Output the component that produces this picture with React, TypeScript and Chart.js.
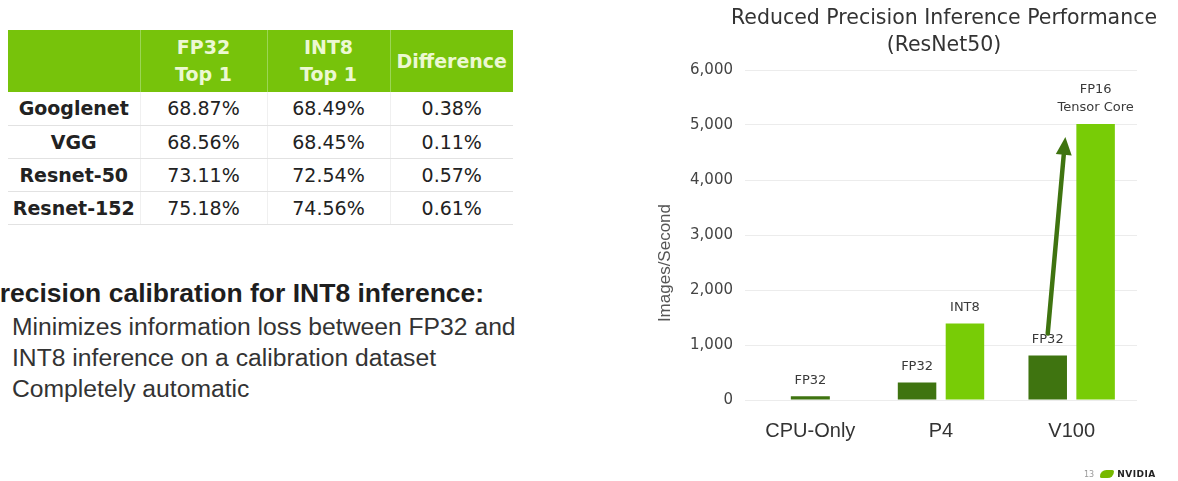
import React, { useEffect, useRef } from 'react';
import { Chart, registerables } from 'chart.js';

Chart.register(...registerables);

// ---- Chart data ----
const categories = ['CPU-Only', 'P4', 'V100'];
const fp32Values: (number | null)[] = [70, 320, 810];
const reducedValues: (number | null)[] = [null, 1390, 5020];
const fp32BarLabels: string[][] = [['FP32'], ['FP32'], ['FP32']];
const reducedBarLabels: string[][] = [[], ['INT8'], ['FP16', 'Tensor Core']];
const chartTitle = ['Reduced Precision Inference Performance', '(ResNet50)'];
const yAxisTitle = 'Images/Second';
const yMax = 6000;
const yStep = 1000;

// ---- Table data ----
const tableHeaders: string[][] = [[], ['FP32', 'Top 1'], ['INT8', 'Top 1'], ['Difference']];
const models = ['Googlenet', 'VGG', 'Resnet-50', 'Resnet-152'];
const fp32Top1 = ['68.87%', '68.56%', '73.11%', '75.18%'];
const int8Top1 = ['68.49%', '68.45%', '72.54%', '74.56%'];
const differences = ['0.38%', '0.11%', '0.57%', '0.61%'];

// ---- Text block ----
const heading = 'Precision calibration for INT8 inference:';
const bulletLines = [
  'Minimizes information loss between FP32 and',
  'INT8 inference on a calibration dataset',
  'Completely automatic',
];

const DARK_GREEN = '#3f7410';
const LIGHT_GREEN = '#78cc06';

const annotatePlugin = {
  id: 'annotateBars',
  afterDraw(chart: any) {
    const ctx = chart.ctx as CanvasRenderingContext2D;
    const area = chart.chartArea;
    ctx.save();
    // chart title (centered over the plot area)
    ctx.font = '20.5px "DejaVu Sans"';
    ctx.fillStyle = '#333';
    ctx.textAlign = 'center';
    ctx.textBaseline = 'middle';
    const cx = (area.left + area.right) / 2 + 3;
    chartTitle.forEach((t, k) => ctx.fillText(t, cx, area.top - 51 + k * 27));
    // y-axis title
    ctx.save();
    ctx.font = '17px "Liberation Sans"';
    ctx.fillStyle = '#555';
    ctx.translate(area.left - 80, area.top + (area.bottom - area.top) * 0.585);
    ctx.rotate(-Math.PI / 2);
    ctx.fillText(yAxisTitle, 0, 0);
    ctx.restore();
    ctx.restore();
  },
  afterDatasetsDraw(chart: any) {
    const ctx = chart.ctx as CanvasRenderingContext2D;
    const m0 = chart.getDatasetMeta(0);
    const m1 = chart.getDatasetMeta(1);
    ctx.save();
    ctx.font = '13px "DejaVu Sans"';
    ctx.fillStyle = '#3a3a3a';
    ctx.textAlign = 'center';
    ctx.textBaseline = 'middle';
    m0.data.forEach((bar: any, i: number) => {
      if (fp32Values[i] == null) return;
      const lines = fp32BarLabels[i];
      lines.forEach((t, k) => ctx.fillText(t, bar.x, bar.y - 16 - (lines.length - 1 - k) * 18));
    });
    m1.data.forEach((bar: any, i: number) => {
      if (reducedValues[i] == null) return;
      const lines = reducedBarLabels[i];
      lines.forEach((t, k) => ctx.fillText(t, bar.x, bar.y - 16 - (lines.length - 1 - k) * 18));
    });
    // arrow from V100 FP32 to V100 FP16
    const from = m0.data[2];
    const to = m1.data[2];
    const x1 = from.x;
    const y1 = from.y - 22;
    const x2 = to.x - to.width / 2 - 11;
    const y2 = to.y + 13;
    const ang = Math.atan2(y2 - y1, x2 - x1);
    const headLen = 18;
    const headHalf = 8;
    const bx = x2 - headLen * Math.cos(ang);
    const by = y2 - headLen * Math.sin(ang);
    ctx.strokeStyle = DARK_GREEN;
    ctx.fillStyle = DARK_GREEN;
    ctx.lineWidth = 4.5;
    ctx.lineCap = 'round';
    ctx.beginPath();
    ctx.moveTo(x1, y1);
    ctx.lineTo(bx, by);
    ctx.stroke();
    ctx.beginPath();
    ctx.moveTo(x2, y2);
    ctx.lineTo(bx + headHalf * Math.sin(ang), by - headHalf * Math.cos(ang));
    ctx.lineTo(bx - headHalf * Math.sin(ang), by + headHalf * Math.cos(ang));
    ctx.closePath();
    ctx.fill();
    ctx.restore();
  },
};

function BarChart() {
  const ref = useRef<HTMLCanvasElement | null>(null);
  useEffect(() => {
    if (!ref.current) return;
    const chart = new Chart(ref.current, {
      type: 'bar',
      data: {
        labels: categories,
        datasets: [
          {
            label: 'FP32',
            data: fp32Values as any,
            backgroundColor: DARK_GREEN,
            skipNull: true,
            categoryPercentage: 0.733,
            barPercentage: 0.804,
            maxBarThickness: 39,
          } as any,
          {
            label: 'Reduced precision',
            data: reducedValues as any,
            backgroundColor: LIGHT_GREEN,
            skipNull: true,
            categoryPercentage: 0.733,
            barPercentage: 0.804,
            maxBarThickness: 39,
          } as any,
        ],
      },
      options: {
        animation: false,
        responsive: true,
        maintainAspectRatio: false,
        layout: { padding: { left: 16, right: 41, top: 70, bottom: 27 } },
        plugins: {
          legend: { display: false },
          tooltip: { enabled: false },
          title: { display: false },
        },
        scales: {
          x: {
            grid: { display: false },
            border: { display: false },
            ticks: {
              color: '#333',
              font: { family: '"Liberation Sans"', size: 20 },
              padding: 11,
            },
          },
          y: {
            min: 0,
            max: yMax,
            border: { display: false },
            grid: { color: '#ececec', drawTicks: false, lineWidth: 1 },
            afterFit: (scale: any) => {
              scale.width = 89;
            },
            ticks: {
              stepSize: yStep,
              color: '#444',
              font: { family: '"DejaVu Sans"', size: 15 },
              padding: 12,
              callback: (v: any) => Number(v).toLocaleString('en-US'),
            },
          },
        },
      },
      plugins: [annotatePlugin],
    });
    return () => chart.destroy();
  }, []);
  return <canvas ref={ref} />;
}

const cellFont = '"DejaVu Sans", sans-serif';
const colWidths = [132, 127, 123, 123];

export default function App() {
  return (
    <div
      style={{
        position: 'fixed',
        left: 0,
        top: 0,
        width: 1178,
        height: 481,
        overflow: 'hidden',
        background: '#fff',
      }}
    >
      <table
        style={{
          position: 'absolute',
          left: 8,
          top: 30,
          borderCollapse: 'collapse',
          tableLayout: 'fixed',
          width: 505,
          fontFamily: cellFont,
        }}
      >
        <colgroup>
          {colWidths.map((w, i) => (
            <col key={i} style={{ width: w }} />
          ))}
        </colgroup>
        <thead>
          <tr style={{ height: 62, background: '#77c30b' }}>
            {tableHeaders.map((h, i) => (
              <th
                key={i}
                style={{
                  color: '#ecf8d2',
                  fontSize: 19,
                  fontWeight: 'bold',
                  lineHeight: '27px',
                  padding: 0,
                  textAlign: 'center',
                  borderLeft: i > 0 ? '1px solid #9bd655' : 'none',
                }}
              >
                {h.map((line, k) => (
                  <div key={k}>{line}</div>
                ))}
              </th>
            ))}
          </tr>
        </thead>
        <tbody>
          {models.map((m, r) => (
            <tr key={m} style={{ height: 33 }}>
              {[m, fp32Top1[r], int8Top1[r], differences[r]].map((v, c) => (
                <td
                  key={c}
                  style={{
                    padding: 0,
                    textAlign: 'center',
                    fontSize: 19,
                    fontWeight: c === 0 ? 'bold' : 'normal',
                    color: '#222',
                    borderBottom: '1px solid #e2e2e2',
                    borderLeft: c > 0 ? '1px solid #f0f0f0' : 'none',
                  }}
                >
                  {v}
                </td>
              ))}
            </tr>
          ))}
        </tbody>
      </table>

      <div
        style={{
          position: 'absolute',
          left: -18,
          top: 277,
          fontFamily: '"Liberation Sans", sans-serif',
          fontWeight: 'bold',
          fontSize: 26.5,
          lineHeight: '32px',
          color: '#1e1e1e',
          whiteSpace: 'nowrap',
        }}
      >
        {heading}
      </div>
      <div
        style={{
          position: 'absolute',
          left: 12,
          top: 311,
          fontFamily: '"Liberation Sans", sans-serif',
          fontSize: 24.7,
          lineHeight: '31px',
          color: '#333',
          whiteSpace: 'nowrap',
        }}
      >
        {bulletLines.map((l) => (
          <div key={l}>{l}</div>
        ))}
      </div>

      <div style={{ position: 'absolute', left: 640, top: 0, width: 538, height: 481 }}>
        <BarChart />
      </div>

      <div
        style={{
          position: 'absolute',
          left: 1084,
          top: 469,
          display: 'flex',
          alignItems: 'center',
          fontFamily: '"DejaVu Sans", sans-serif',
        }}
      >
        <span style={{ fontSize: 8, color: '#999', marginRight: 6 }}>13</span>
        <span
          style={{
            display: 'inline-block',
            width: 14,
            height: 8,
            background: '#76b900',
            borderRadius: '8px 2px 8px 2px',
            marginRight: 3,
          }}
        />
        <span style={{ fontSize: 9, fontWeight: 'bold', color: '#222', letterSpacing: 0.5 }}>NVIDIA</span>
      </div>
    </div>
  );
}
